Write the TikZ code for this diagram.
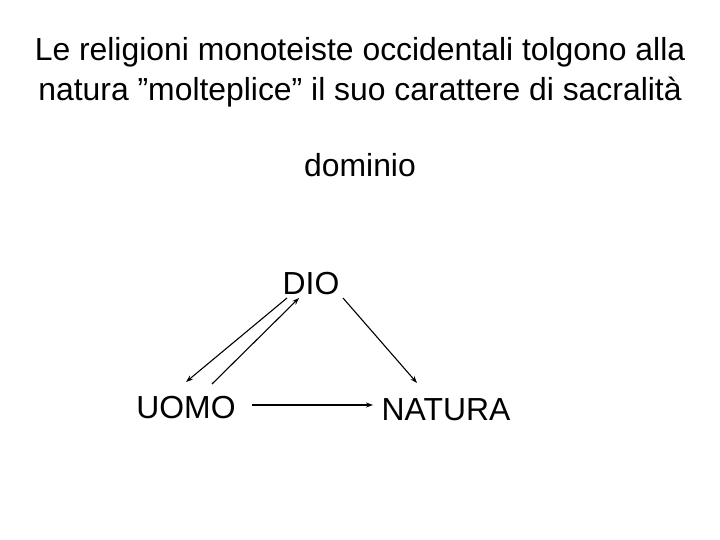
\documentclass[tikz,border=0pt]{standalone}
\usepackage{fontspec}
\setmainfont{Liberation Sans}
\usetikzlibrary{arrows.meta}
\begin{document}
\begin{tikzpicture}[x=1bp,y=-1bp,
  lbl/.style={font=\fontsize{32}{40}\selectfont, inner sep=0pt},
  arr/.style={line width=1.1bp, -{Stealth[length=7bp,width=5bp]}}]
\useasboundingbox (0,0) rectangle (720,540);
\node[lbl, align=center] (title) at (360,72) {Le religioni monoteiste occidentali tolgono alla\\natura ”molteplice” il suo carattere di sacralità};
\node[lbl] (dom) at (360,165) {dominio};
\node[lbl] (dio) at (311,284) {DIO};
\node[lbl] (uomo) at (186,408) {UOMO};
\node[lbl] (nat) at (446,410) {NATURA};
\coordinate (a1s) at (287,298);
\coordinate (a1e) at (186,382);
\coordinate (a2s) at (212,384);
\coordinate (a2e) at (299,298);
\coordinate (a3s) at (343,298);
\coordinate (a3e) at (417,383);
\coordinate (a4s) at (252,405);
\coordinate (a4e) at (373,405);
\draw[arr] (a1s) -- (a1e);
\draw[arr] (a2s) -- (a2e);
\draw[arr] (a3s) -- (a3e);
\draw[arr] (a4s) -- (a4e);
\end{tikzpicture}
\end{document}
